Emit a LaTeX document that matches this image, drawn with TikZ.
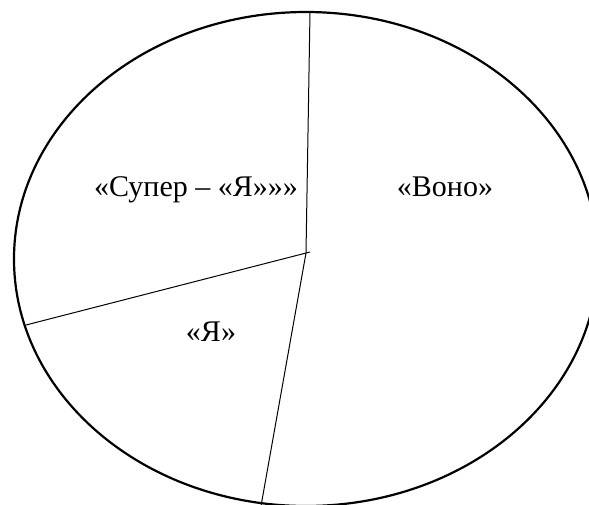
\documentclass[tikz,border=0pt]{standalone}
\usepackage{fontspec}
\setmainfont{Liberation Serif}
\usetikzlibrary{positioning}
\tikzset{
  outline/.style={draw=black, line width=2.2pt},
  divider/.style={draw=black, line width=1pt},
  part/.style={anchor=base, inner sep=0pt, font=\fontsize{30}{34}\selectfont},
}

\begin{document}
\begin{tikzpicture}[x=1pt, y=-1pt]
  \useasboundingbox (0,0) rectangle (589,504);
  \clip (0,0) rectangle (589,504);

  % Outer ellipse
  \draw[outline] (306,259) ellipse [x radius=292, y radius=247];

  % Dividing lines
  \coordinate (top) at (310,12);
  \coordinate (mid) at (306,253);
  \coordinate (midr) at (310,252);
  \coordinate (left) at (26,325);
  \coordinate (bottom) at (261,506);
  \draw[divider] (top) -- (mid);
  \draw[divider] (midr) -- (left);
  \draw[divider] (mid) -- (bottom);

  % Labels
  \node[part] (superego) at (196,196) {«Супер – «Я»»»};
  \node[part] (id) at (445,196) {«Воно»};
  \node[part] (ego) at (211,341) {«Я»};
\end{tikzpicture}
\end{document}
